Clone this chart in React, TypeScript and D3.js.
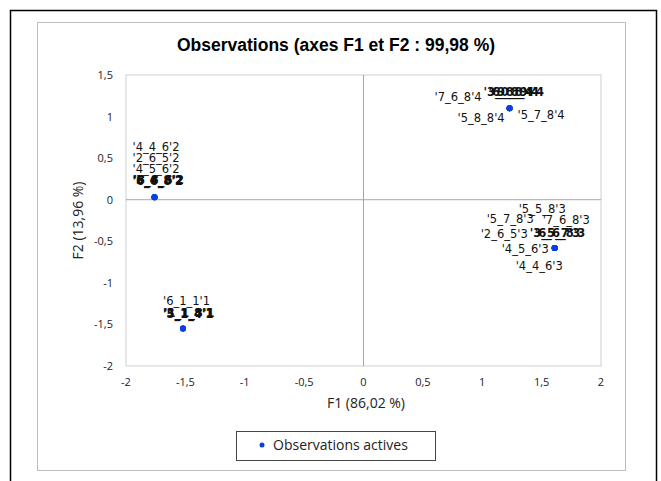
import * as d3 from 'd3';

// observation names and factor coordinates (several observations share a position)
const obsNames = [
  "'4_4_6'2", "'2_6_5'2", "'4_5_6'2", "'5_4_8'2", "'8_8_6'2", "'6_6_8'2",
  "'6_1_1'1", "'3_1_8'1", "'1_1_3'1", "'5_1_4'1",
  "'7_6_8'4", "'3_0_8'4", "'6_8_9'4", "'9_8_4'4", "'5_8_8'4", "'5_7_8'4",
  "'5_5_8'3", "'5_7_8'3", "'7_6_8'3", "'2_6_5'3", "'3_5_7'3", "'6_6_8'3", "'4_5_6'3", "'4_4_6'3",
];
const obsF1 = [
  -1.76, -1.76, -1.76, -1.76, -1.76, -1.76,
  -1.52, -1.52, -1.52, -1.52,
  1.23, 1.23, 1.23, 1.23, 1.23, 1.23,
  1.61, 1.61, 1.61, 1.61, 1.61, 1.61, 1.61, 1.61,
];
const obsF2 = [
  0.03, 0.03, 0.03, 0.03, 0.03, 0.03,
  -1.55, -1.55, -1.55, -1.55,
  1.1, 1.1, 1.1, 1.1, 1.1, 1.1,
  -0.58, -0.58, -0.58, -0.58, -0.58, -0.58, -0.58, -0.58,
];
// label placement (pixel offsets from the point), and whether labels pile up
const labelDx = [
  -22, -22, -22, -22, -21, -22,
  -20, -20, -19, -20,
  -75, -26, -21, -16, -52, 8,
  -36, -68, -12, -74, -25, -20, -53, -39,
];
const labelDy = [
  -46, -35, -24, -13, -13, -12,
  -24, -12, -12, -11,
  -7, -12, -12, -12, 14, 11,
  -35, -25, -24, -10, -11, -11, 5, 22,
];
const labelPiled = [
  false, false, false, true, true, true,
  false, true, true, true,
  false, true, true, true, false, false,
  false, false, false, false, true, true, false, false,
];

const xTicks = [-2, -1.5, -1, -0.5, 0, 0.5, 1, 1.5, 2];
const yTicks = [-2, -1.5, -1, -0.5, 0, 0.5, 1, 1.5];

const fmt = (v: number) => String(v).replace('.', ',');

export default function App() {
  const x = d3.scaleLinear().domain([-2, 2]).range([126, 601]);
  const y = d3.scaleLinear().domain([-2, 1.5]).range([366, 75]);
  const tickFont = "'Open Sans', 'Liberation Sans', sans-serif";

  return (
    <svg width={661} height={481} style={{ position: 'absolute', left: 0, top: 0, background: '#fff' }}>
      <rect x={10.5} y={10.5} width={646} height={480} fill="none" stroke="#000" strokeWidth={1.5} />
      <rect x={37.5} y={22.5} width={588} height={448} fill="#fff" stroke="#bdbdbd" />
      <text x={336} y={51} textAnchor="middle" fontFamily="'Liberation Sans', Arial, sans-serif"
        fontWeight="bold" fontSize={17.5}>Observations (axes F1 et F2 : 99,98 %)</text>

      <rect x={x(-2)} y={y(1.5)} width={x(2) - x(-2)} height={y(-2) - y(1.5)} fill="none" stroke="#d0d0d0" />
      <line x1={x(0)} x2={x(0)} y1={y(1.5)} y2={y(-2)} stroke="#a6a6a6" />
      <line x1={x(-2)} x2={x(2)} y1={y(0)} y2={y(0)} stroke="#a6a6a6" />

      {xTicks.map((t) => (
        <text key={'x' + t} x={x(t)} y={386} textAnchor="middle" fontFamily={tickFont} fontSize={11} fill="#222">{fmt(t)}</text>
      ))}
      {yTicks.map((t) => (
        <text key={'y' + t} x={113} y={y(t) + 4} textAnchor="end" fontFamily={tickFont} fontSize={11} fill="#222">{fmt(t)}</text>
      ))}
      <text x={366} y={408} textAnchor="middle" fontFamily={tickFont} fontSize={14} fill="#222">F1 (86,02 %)</text>
      <text transform={`translate(83,${y(-0.25)}) rotate(-90)`} textAnchor="middle" fontFamily={tickFont} fontSize={14} fill="#222">F2 (13,96 %)</text>

      {obsNames.map((n, i) => (
        <text key={'l' + i} x={x(obsF1[i]) + labelDx[i]} y={y(obsF2[i]) + labelDy[i]}
          fontFamily="'DejaVu Sans', sans-serif" fontSize={11.5} fill="#111"
          fontWeight={labelPiled[i] ? 'bold' : 'normal'}>{n}</text>
      ))}
      {obsNames.map((n, i) => (
        <circle key={'p' + i} cx={x(obsF1[i])} cy={y(obsF2[i])} r={3} fill="#0a3fe0" />
      ))}

      <rect x={236.5} y={431.5} width={199} height={29} fill="#fff" stroke="#444" />
      <circle cx={262} cy={445} r={2.5} fill="#0a3fe0" />
      <text x={273} y={450} fontFamily={tickFont} fontSize={14} fill="#222">Observations actives</text>
    </svg>
  );
}
